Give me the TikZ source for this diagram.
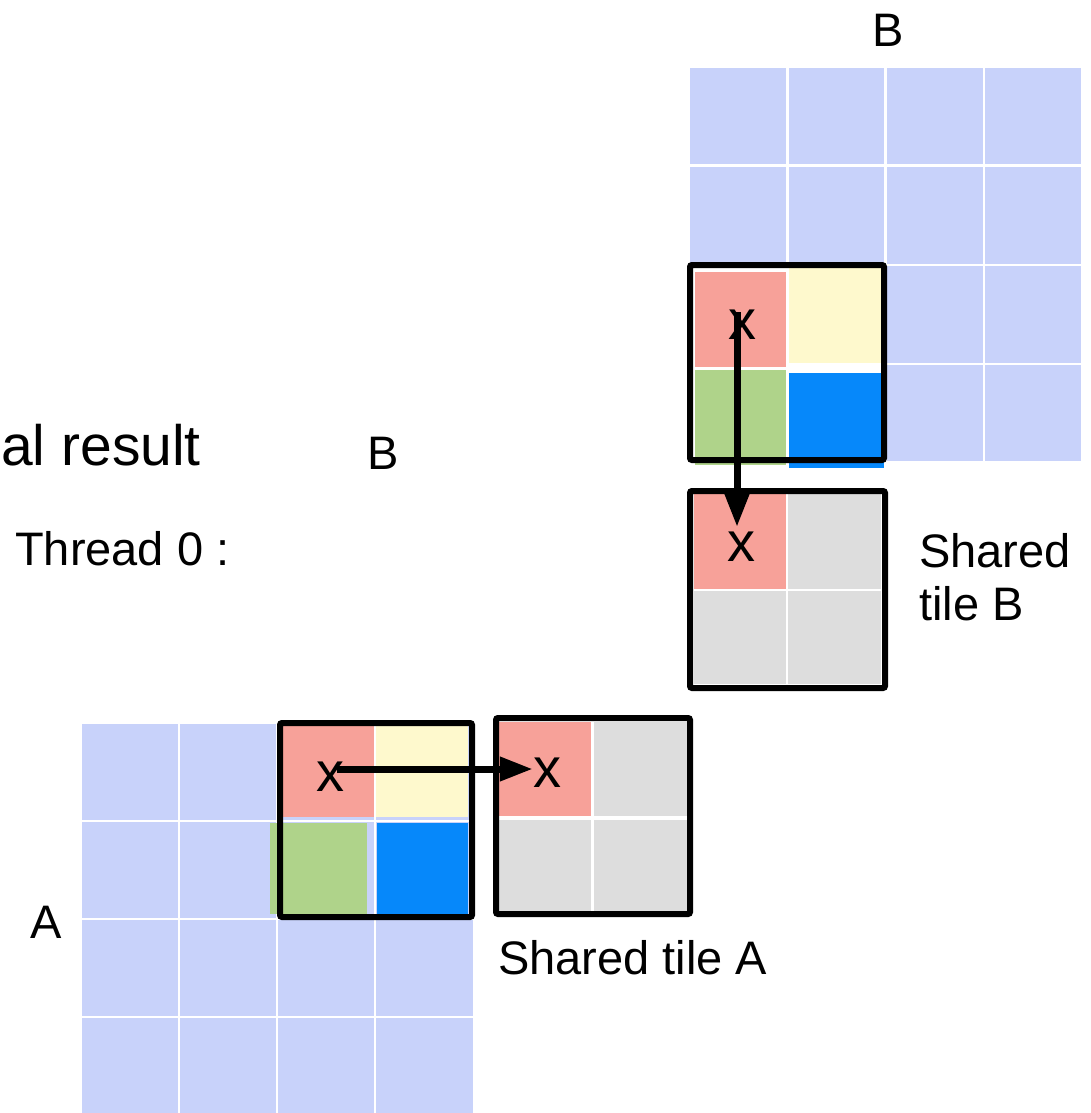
\documentclass[tikz,border=0pt]{standalone}
\usepackage{fontspec}
\setmainfont{Liberation Sans}
\usetikzlibrary{arrows.meta}
\definecolor{lblue}{HTML}{C8D2FA}
\definecolor{salmon}{HTML}{F7A199}
\definecolor{lyellow}{HTML}{FEF9CD}
\definecolor{lgreen}{HTML}{AFD38A}
\definecolor{dblue}{HTML}{0688FA}
\definecolor{lgrey}{HTML}{DDDDDD}
\tikzset{
  tilebox/.style={draw=black,line width=6pt,rounded corners=2pt},
  lbl/.style={inner sep=0pt,font=\fontsize{47}{53}\selectfont},
  xmark/.style={inner sep=0pt,font=\fontsize{56}{60}\selectfont},
  arr/.style={line width=7pt,-{Triangle[length=33pt,width=23pt]}}
}
\begin{document}
\begin{tikzpicture}[x=1pt,y=-1pt]
\useasboundingbox (0,0) rectangle (1090,1113);
\clip (0,0) rectangle (1090,1113);
% ---------- matrix A (bottom left) ----------
\foreach \xa/\xb in {82/178,180/276,278/374,376/473}
  \foreach \ya/\yb in {724/820,822/918,920/1016,1018/1115}
    \fill[lblue] (\xa,\ya) rectangle (\xb,\yb);
\fill[salmon]  (282,725) rectangle (374,817);
\fill[lyellow] (376,725) rectangle (468,817);
\fill[lgreen]  (270,823) rectangle (367,914);
\fill[dblue]   (377,823) rectangle (468,914);
\draw[tilebox] (280,723) rectangle (472,917);
% ---------- shared tile A ----------
\fill[salmon] (499,722) rectangle (591,816);
\fill[lgrey]  (594,722) rectangle (687,816);
\fill[lgrey]  (499,820) rectangle (591,912);
\fill[lgrey]  (594,820) rectangle (687,912);
\draw[tilebox] (496,718) rectangle (690,914);
% ---------- matrix B (top right) ----------
\foreach \xa/\xb in {690/786,789/884,887/983,985/1081}
  \foreach \ya/\yb in {68/164,167/264,266/363,365/461}
    \fill[lblue] (\xa,\ya) rectangle (\xb,\yb);
\fill[white]   (690,266) rectangle (884,461);
\fill[salmon]  (695,272) rectangle (786,367);
\fill[lyellow] (789,268) rectangle (881,363);
\fill[lgreen]  (695,370) rectangle (786,465);
\fill[dblue]   (789,373) rectangle (884,468);
\draw[tilebox] (690,265) rectangle (884,460);
% ---------- shared tile B ----------
\fill[salmon] (694,494) rectangle (786,589);
\fill[lgrey]  (788,494) rectangle (881,589);
\fill[lgrey]  (694,591) rectangle (786,684);
\fill[lgrey]  (788,591) rectangle (881,684);
\draw[tilebox] (690,491) rectangle (885,688);
% ---------- x marks ----------
\node[xmark] (xa)  at (330,777) {x};
\node[xmark] (xsa) at (547,773) {x};
\node[xmark] (xb)  at (742,325) {x};
\node[xmark] (xsb) at (741,547) {x};
% ---------- labels ----------
\node[lbl] (btop) at (888,30) {B};
\node[inner sep=0pt,font=\fontsize{57}{62}\selectfont,anchor=base east] (res) at (201,465) {al result};
\node[lbl] (bmid) at (383,453) {B};
\node[lbl,anchor=base west] (thr) at (15,565) {Thread 0 :};
\node[lbl] (alab) at (46,922) {A};
\node[lbl,anchor=base west] (sta) at (498,974) {Shared tile A};
\node[lbl,anchor=north west,align=left] (stb) at (919,533) {Shared\\tile B};
% ---------- arrows ----------
\coordinate (as) at ([shift={(7pt,8pt)}]xa.center);
\draw[arr] (as) -- (as -| xsa.west);
\coordinate (bs) at ([xshift=-5pt,yshift=-2pt]xb.north);
\coordinate (be) at ([yshift=5pt]xsb.north);
\draw[arr] (bs) -- (bs |- be);
\end{tikzpicture}
\end{document}
